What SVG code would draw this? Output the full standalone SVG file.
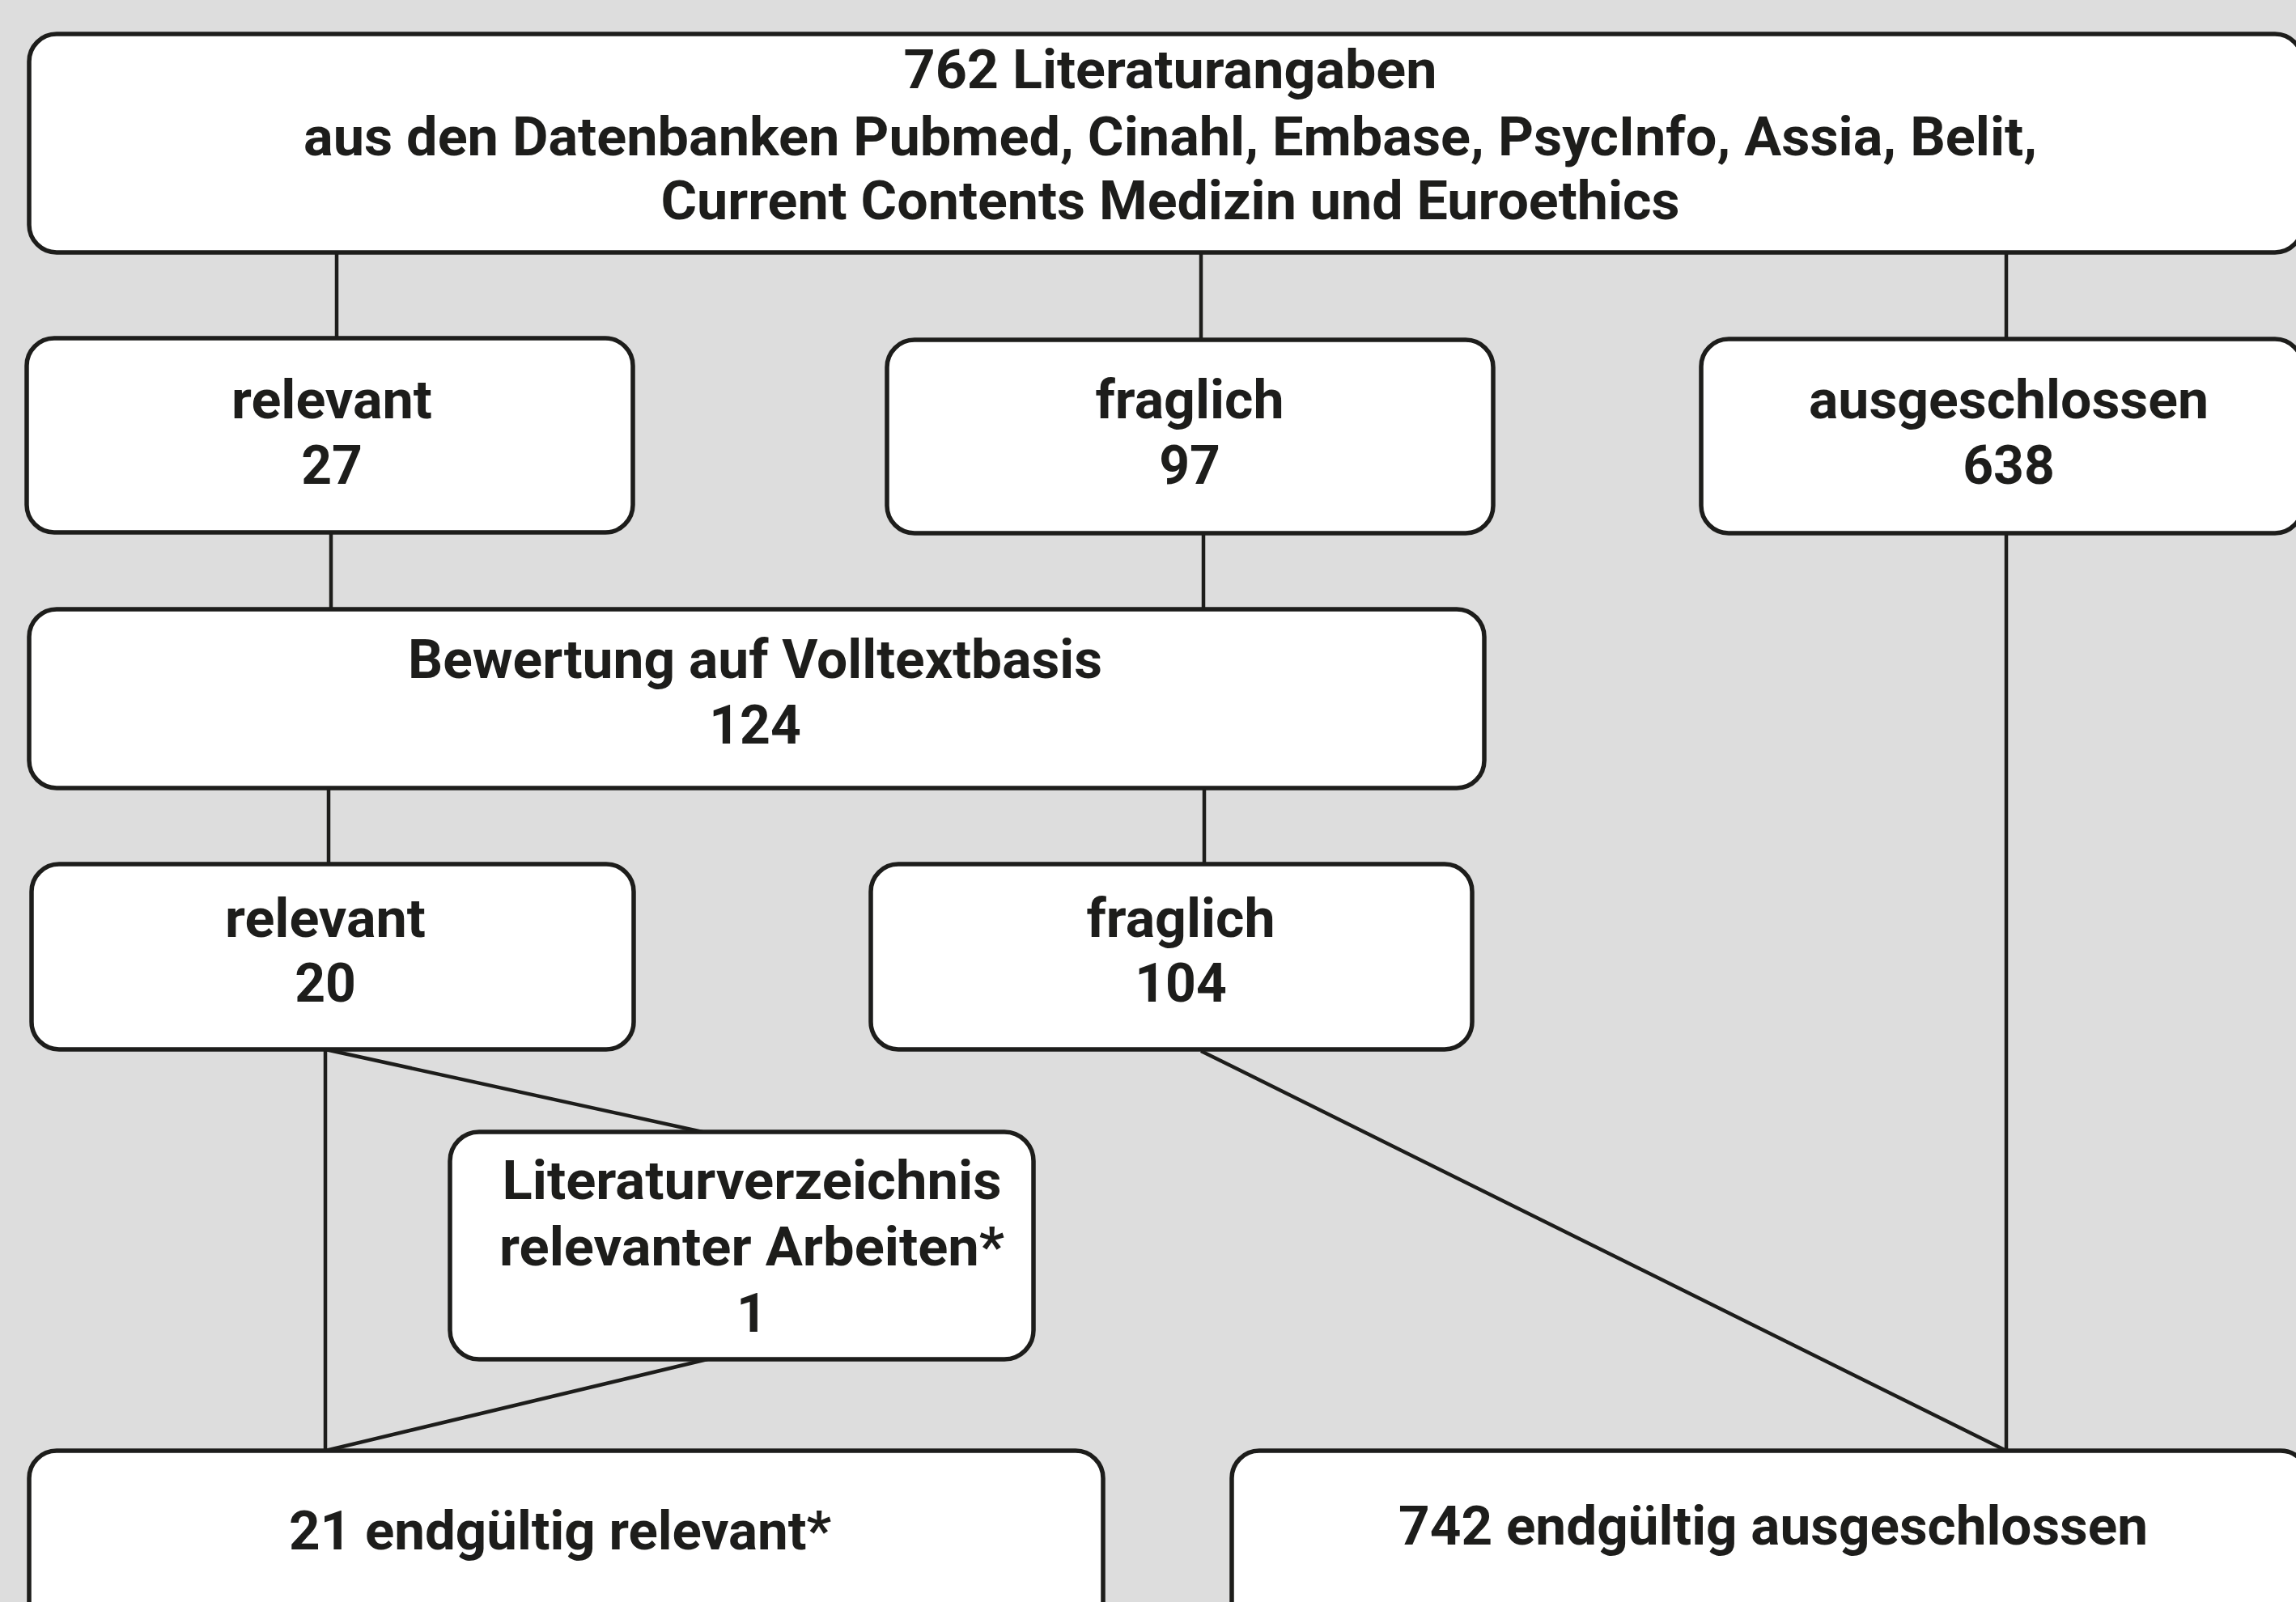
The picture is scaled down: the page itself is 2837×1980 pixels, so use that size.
<svg xmlns="http://www.w3.org/2000/svg" width="2837" height="1980" viewBox="0 0 2837 1980">
<style>
.box{fill:#ffffff;stroke:#1d1d1b;stroke-width:5.5}
.c{stroke:#1d1d1b;stroke-width:4.5;fill:none}
text{font-family:Roboto,"Liberation Sans",sans-serif;font-weight:700;font-size:66px;fill:#1d1d1b;text-anchor:middle}
</style>
<rect x="0" y="0" width="2837" height="1980" fill="#dddddd"/>
<g id="connectors">
<line class="c" x1="416" y1="312" x2="416" y2="418"/>
<line class="c" x1="1484" y1="312" x2="1484" y2="420"/>
<line class="c" x1="2479" y1="312" x2="2479" y2="419"/>
<line class="c" x1="409" y1="658" x2="409" y2="753"/>
<line class="c" x1="1487" y1="659" x2="1487" y2="753"/>
<line class="c" x1="406" y1="974" x2="406" y2="1068"/>
<line class="c" x1="1488" y1="974" x2="1488" y2="1068"/>
<line class="c" x1="402" y1="1297" x2="402" y2="1793"/>
<line class="c" x1="402" y1="1297" x2="868" y2="1399"/>
<line class="c" x1="874" y1="1680" x2="402" y2="1793"/>
<line class="c" x1="1484" y1="1299" x2="2479" y2="1793"/>
<line class="c" x1="2479" y1="659" x2="2479" y2="1793"/>
</g>
<g id="n-top">
<rect class="box" x="36" y="42" width="2809" height="270" rx="34"/>
<text x="1446" y="109" textLength="659" lengthAdjust="spacingAndGlyphs">762 Literaturangaben</text>
<text x="1446" y="192" textLength="2142" lengthAdjust="spacingAndGlyphs">aus den Datenbanken Pubmed, Cinahl, Embase, PsycInfo, Assia, Belit,</text>
<text x="1446" y="271" textLength="1259" lengthAdjust="spacingAndGlyphs">Current Contents Medizin und Euroethics</text>
</g>
<g id="n-rel27">
<rect class="box" x="33" y="418" width="749" height="240" rx="34"/>
<text x="410" y="517" textLength="248" lengthAdjust="spacingAndGlyphs">relevant</text>
<text x="410" y="598">27</text>
</g>
<g id="n-frag97">
<rect class="box" x="1096" y="420" width="749" height="239" rx="34"/>
<text x="1470" y="517" textLength="233" lengthAdjust="spacingAndGlyphs">fraglich</text>
<text x="1470" y="598">97</text>
</g>
<g id="n-aus638">
<rect class="box" x="2102" y="419" width="743" height="240" rx="34"/>
<text x="2482" y="517" textLength="494" lengthAdjust="spacingAndGlyphs">ausgeschlossen</text>
<text x="2482" y="598">638</text>
</g>
<g id="n-bew">
<rect class="box" x="36" y="753" width="1798" height="221" rx="34"/>
<text x="933" y="838" textLength="858" lengthAdjust="spacingAndGlyphs">Bewertung auf Volltextbasis</text>
<text x="933" y="919">124</text>
</g>
<g id="n-rel20">
<rect class="box" x="39" y="1068" width="744" height="229" rx="34"/>
<text x="402" y="1158" textLength="248" lengthAdjust="spacingAndGlyphs">relevant</text>
<text x="402" y="1238">20</text>
</g>
<g id="n-frag104">
<rect class="box" x="1076" y="1068" width="743" height="229" rx="34"/>
<text x="1459" y="1158" textLength="233" lengthAdjust="spacingAndGlyphs">fraglich</text>
<text x="1459" y="1238">104</text>
</g>
<g id="n-lit">
<rect class="box" x="556" y="1399" width="721" height="281" rx="36"/>
<text x="929" y="1482" textLength="617" lengthAdjust="spacingAndGlyphs">Literaturverzeichnis</text>
<text x="929" y="1564" textLength="624" lengthAdjust="spacingAndGlyphs">relevanter Arbeiten*</text>
<text x="929" y="1646">1</text>
</g>
<g id="n-endrel">
<rect class="box" x="36" y="1793" width="1327" height="250" rx="34"/>
<text x="692" y="1915" textLength="670" lengthAdjust="spacingAndGlyphs">21 endgültig relevant*</text>
</g>
<g id="n-endaus">
<rect class="box" x="1522" y="1793" width="1330" height="250" rx="34"/>
<text x="2191" y="1909" textLength="926" lengthAdjust="spacingAndGlyphs">742 endgültig ausgeschlossen</text>
</g>
</svg>
